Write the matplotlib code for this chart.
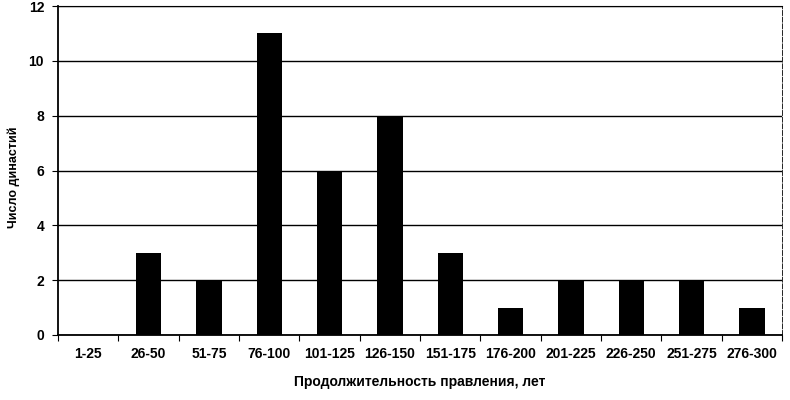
import matplotlib
matplotlib.use("Agg")
import matplotlib.pyplot as plt
import numpy as np

categories = ["1-25", "26-50", "51-75", "76-100", "101-125", "126-150", "151-175",
              "176-200", "201-225", "226-250", "251-275", "276-300"]
values = [0, 3, 2, 11, 6, 8, 3, 1, 2, 2, 2, 1]
yticks = [0, 2, 4, 6, 8, 10, 12]

plt.rcParams['font.family'] = ['Liberation Sans', 'DejaVu Sans']
fig = plt.figure(figsize=(7.9, 4.0), dpi=100)
ax = fig.add_axes([0.0734, 0.1625, 0.9166, 0.8225])

x = np.arange(len(categories))
ax.bar(x, values, width=0.42, color='black', zorder=3)
ax.set_xlim(-0.5, len(categories) - 0.5)
ax.set_ylim(0, 12)
ax.set_yticks(yticks)
ax.set_yticklabels([str(v) for v in yticks], fontsize=10, fontweight='bold')
ax.yaxis.grid(True, color='black', linewidth=1.0, zorder=0)

ax.set_xticks(np.arange(-0.5, len(categories) + 0.5, 1.0))
ax.set_xticklabels([])
ax.set_xticks(x, minor=True)
ax.set_xticklabels(categories, minor=True, fontsize=10, fontweight='bold')
ax.tick_params(axis='x', which='minor', length=0, pad=9)
ax.tick_params(axis='x', which='major', length=4, direction='out')
ax.tick_params(axis='y', length=4, direction='out', pad=6)

ax.spines['top'].set_linewidth(0.8)
ax.spines['right'].set_linewidth(0.6)
ax.spines['right'].set_linestyle((0, (6, 2)))
ax.spines['left'].set_linewidth(1.3)
ax.spines['bottom'].set_linewidth(1.3)

ax.set_xlabel("Продолжительность правления, лет", fontsize=10, fontweight='bold', labelpad=10)
ax.set_ylabel("Число династий", fontsize=9, fontweight='bold')
ax.yaxis.set_label_coords(-0.053, 0.48)

fig.savefig("out.png", dpi=100)
